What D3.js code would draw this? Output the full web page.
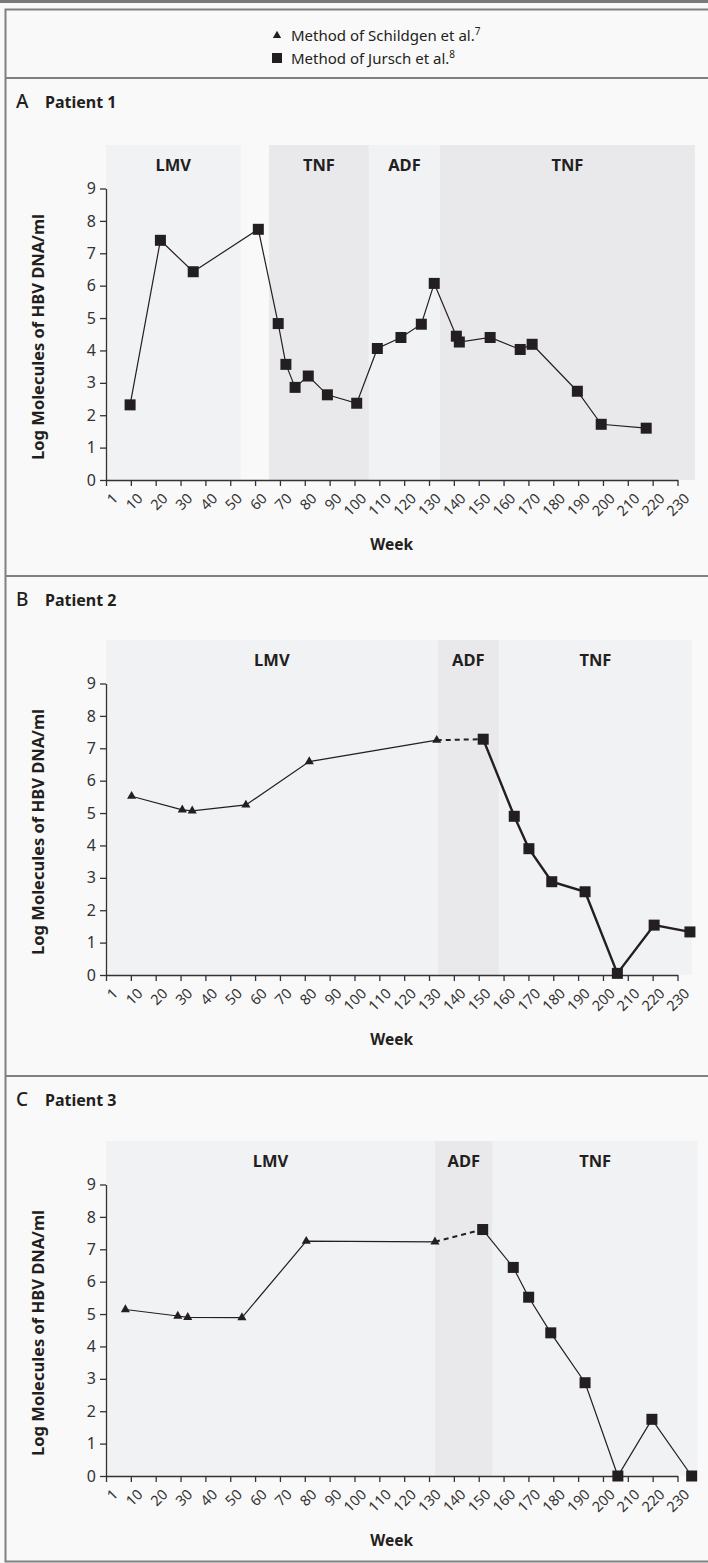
<!DOCTYPE html>
<html>
<head>
<meta charset="utf-8">
<script src="https://cdn.jsdelivr.net/npm/d3@7"></script>
<style>
  body { margin: 0; background: #f9f9f9; }
  svg { display: block; }
</style>
</head>
<body>
<script>
// axis ticks
const weekTicks = [0, 10, 20, 30, 40, 50, 60, 70, 80, 90, 100, 110, 120, 130, 140, 150, 160, 170, 180, 190, 200, 210, 220, 230];
const weekTickLabels = ["1", "10", "20", "30", "40", "50", "60", "70", "80", "90", "100", "110", "120", "130", "140", "150", "160", "170", "180", "190", "200", "210", "220", "230"];
const valueTicks = [0, 1, 2, 3, 4, 5, 6, 7, 8, 9];

// legend
const legendLabels = ["Method of Schildgen et al.", "Method of Jursch et al."];
const legendRefs = ["7", "8"];

// Patient 1
const p1Phases = ["LMV", "TNF", "ADF", "TNF"];
const p1PhaseWeeks = [[0, 54.2], [65.6, 105.8], [105.8, 134.4], [134.4, 237]];
const p1Schildgen = [];
const p1Jursch = [[9.7, 2.32], [21.9, 7.4], [35.1, 6.43], [61.3, 7.74], [69.3, 4.83], [72.4, 3.57], [76.1, 2.86],
  [81.4, 3.21], [89.1, 2.63], [100.9, 2.37], [109.2, 4.06], [118.7, 4.4], [126.9, 4.81], [132.1, 6.07],
  [141, 4.44], [142.2, 4.26], [154.6, 4.4], [166.7, 4.03], [171.5, 4.19], [189.7, 2.74], [199.3, 1.72], [217.4, 1.6]];

// Patient 2
const p2Phases = ["LMV", "ADF", "TNF"];
const p2PhaseWeeks = [[0, 133.5], [133.5, 158.1], [158.1, 235.8]];
const p2Schildgen = [[10.3, 5.52], [30.7, 5.1], [34.7, 5.07], [56.3, 5.25], [81.8, 6.59], [133.1, 7.25]];
const p2Jursch = [[151.8, 7.28], [164.3, 4.9], [170.2, 3.9], [179.4, 2.88], [192.8, 2.57], [205.8, 0.05], [220.6, 1.54], [235, 1.33]];

// Patient 3
const p3Phases = ["LMV", "ADF", "TNF"];
const p3PhaseWeeks = [[0, 132.4], [132.4, 155.6], [155.6, 238.1]];
const p3Schildgen = [[7.8, 5.14], [28.9, 4.94], [32.9, 4.9], [54.7, 4.89], [80.6, 7.25], [132.4, 7.23]];
const p3Jursch = [[151.6, 7.61], [163.9, 6.44], [170.1, 5.52], [179, 4.42], [192.8, 2.88], [206, 0], [219.7, 1.75], [235.7, 0]];

const width = 708;
const height = 1563;
const ink = "#231f20";
const shades = ["#f1f2f4", "#e9e9ec"];
const font = "'Noto Sans', 'Open Sans', sans-serif";

const panels = [
  {letter: "A", title: "Patient 1", phases: p1Phases, phaseWeeks: p1PhaseWeeks, schild: p1Schildgen, jursch: p1Jursch, top: 78, y0: 480, thick: false},
  {letter: "B", title: "Patient 2", phases: p2Phases, phaseWeeks: p2PhaseWeeks, schild: p2Schildgen, jursch: p2Jursch, top: 576, y0: 975, thick: true},
  {letter: "C", title: "Patient 3", phases: p3Phases, phaseWeeks: p3PhaseWeeks, schild: p3Schildgen, jursch: p3Jursch, top: 1076, y0: 1476, thick: false}
];

const svg = d3.select("body").append("svg")
    .attr("width", width)
    .attr("height", height)
    .style("font-family", font);

svg.append("rect").attr("width", width).attr("height", height).attr("fill", "#f9f9f9");

// frame
svg.append("rect").attr("x", 0).attr("y", 0).attr("width", width).attr("height", 3).attr("fill", "#7a7a7a");
svg.append("path")
    .attr("d", `M${width + 5},9.5H5.5V1561.5H${width + 5}`)
    .attr("fill", "none").attr("stroke", "#808080").attr("stroke-width", 2);
panels.forEach(p => {
  svg.append("line").attr("x1", 5).attr("x2", width).attr("y1", p.top).attr("y2", p.top)
      .attr("stroke", "#808080").attr("stroke-width", 2);
});

// legend
const legend = svg.append("g").attr("transform", "translate(277,0)");
legend.append("path")
    .attr("d", d3.symbol(d3.symbolTriangle, 30)())
    .attr("transform", "translate(0,35.5)")
    .attr("fill", ink);
legend.append("rect").attr("x", -5).attr("y", 53).attr("width", 10).attr("height", 10).attr("fill", ink);
legendLabels.forEach((t, i) => {
  const txt = legend.append("text")
      .attr("x", 14).attr("y", 41 + i * 23)
      .attr("font-size", 15).attr("fill", ink)
      .text(t);
  txt.append("tspan").attr("dy", -6).attr("font-size", 10).text(legendRefs[i]);
});

const x = d3.scaleLinear().domain([0, 230]).range([106, 677.5]);

panels.forEach(p => {
  const y = d3.scaleLinear().domain([0, 9]).range([p.y0, p.y0 - 291.5]);
  const bgTop = p.y0 - 335;
  const g = svg.append("g");

  // title
  g.append("text").attr("x", 16).attr("y", p.top + 30)
      .attr("font-size", 19).attr("font-weight", 500).attr("fill", ink).text(p.letter);
  g.append("text").attr("x", 45).attr("y", p.top + 30)
      .attr("font-size", 16).attr("font-weight", 700).attr("fill", ink).text(p.title);

  // treatment phases
  g.selectAll(".phase").data(p.phases).join("rect")
      .attr("x", (d, i) => x(p.phaseWeeks[i][0]))
      .attr("width", (d, i) => x(p.phaseWeeks[i][1]) - x(p.phaseWeeks[i][0]))
      .attr("y", bgTop)
      .attr("height", p.y0 - bgTop)
      .attr("fill", (d, i) => shades[i % 2]);
  g.selectAll(".phaseLabel").data(p.phases).join("text")
      .attr("x", (d, i) => (x(p.phaseWeeks[i][0]) + x(p.phaseWeeks[i][1])) / 2)
      .attr("y", bgTop + 26)
      .attr("text-anchor", "middle")
      .attr("font-size", 16.5).attr("font-weight", 700).attr("fill", ink)
      .text(d => d);

  // axes
  const yAxis = g.append("g").attr("transform", `translate(${x(0)},0)`)
      .call(d3.axisLeft(y).tickValues(valueTicks).tickSize(6).tickSizeOuter(0).tickPadding(4));
  const xAxis = g.append("g").attr("transform", `translate(0,${p.y0})`)
      .call(d3.axisBottom(x).tickValues(weekTicks).tickFormat((d, i) => weekTickLabels[i]).tickSize(6).tickSizeOuter(0));
  [yAxis, xAxis].forEach(a => {
    a.selectAll("path, line").attr("stroke", "#333").attr("stroke-width", 1.3);
    a.selectAll("text").attr("fill", "#333").attr("font-family", font);
  });
  yAxis.selectAll("text").attr("font-size", 16);
  xAxis.selectAll("text")
      .attr("font-size", 14.5)
      .attr("text-anchor", "end")
      .attr("dy", null)
      .attr("transform", "translate(6,13) rotate(-45)");

  // axis titles
  g.append("text")
      .attr("transform", `translate(44,${p.y0 - 143}) rotate(-90)`)
      .attr("text-anchor", "middle")
      .attr("font-size", 16.5).attr("font-weight", 700).attr("fill", ink)
      .text("Log Molecules of HBV DNA/ml");
  g.append("text")
      .attr("x", (x(0) + x(230)) / 2).attr("y", p.y0 + 70)
      .attr("text-anchor", "middle")
      .attr("font-size", 15.5).attr("font-weight", 700).attr("fill", ink)
      .text("Week");

  // lines
  const line = d3.line().x(d => x(d[0])).y(d => y(d[1]));
  if (p.schild.length) {
    g.append("path").datum(p.schild).attr("d", line)
        .attr("fill", "none").attr("stroke", ink).attr("stroke-width", 1.2);
    g.append("path").datum([p.schild[p.schild.length - 1], p.jursch[0]]).attr("d", line)
        .attr("fill", "none").attr("stroke", ink).attr("stroke-width", 2).attr("stroke-dasharray", "5,4");
  }
  g.append("path").datum(p.jursch).attr("d", line)
      .attr("fill", "none").attr("stroke", ink).attr("stroke-width", p.thick ? 2.4 : 1.2);

  // markers
  g.selectAll(".tri").data(p.schild).join("path")
      .attr("d", d3.symbol(d3.symbolTriangle, 36)())
      .attr("transform", d => `translate(${x(d[0])},${y(d[1])})`)
      .attr("fill", ink);
  g.selectAll(".sq").data(p.jursch).join("rect")
      .attr("x", d => x(d[0]) - 5.5)
      .attr("y", d => y(d[1]) - 5.5)
      .attr("width", 11).attr("height", 11)
      .attr("fill", ink);
});
</script>
</body>
</html>
